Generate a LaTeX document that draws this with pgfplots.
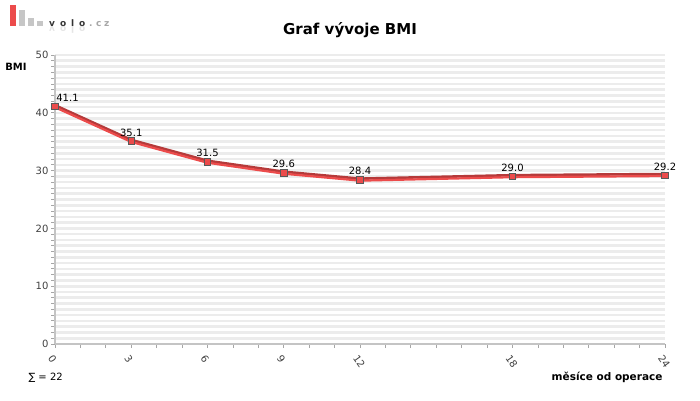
\documentclass[border=0pt]{standalone}
\usepackage{pgfplots}
\pgfplotsset{compat=1.18}
\usepackage{fontspec}
\setmainfont{DejaVu Sans}
\definecolor{lred}{HTML}{EC4B4B}
\definecolor{dred}{HTML}{B53A3A}
\definecolor{axgray}{HTML}{C4C4C4}
\definecolor{stripe}{HTML}{ECECEC}
\begin{document}
\begin{tikzpicture}[x=1pt,y=1pt]
\useasboundingbox (-55,-56) rectangle (645,344);
% logo
\fill[lred] (-45,318) rectangle (-39,339);
\fill[gray!45] (-36,318) rectangle (-30,334);
\fill[gray!45] (-27,318) rectangle (-21,326);
\fill[gray!45] (-18,318) rectangle (-12,323);
\begin{scope}[every node/.style={anchor=base west,inner sep=0pt,font=\fontsize{9}{9}\selectfont\bfseries}]
\node[text=black!80] at (-6,318) {v};
\node[text=black!80] at (5,318) {o};
\node[text=black!80] at (16,318) {l};
\node[text=black!80] at (24,318) {o};
\node[text=gray!70] at (34,318) {.};
\node[text=gray!70] at (41,318) {c};
\node[text=gray!70] at (49,318) {z};
\node[text=gray!20,yscale=-1] at (-6,318) {v};
\node[text=gray!20,yscale=-1] at (5,318) {o};
\node[text=gray!20,yscale=-1] at (16,318) {l};
\node[text=gray!20,yscale=-1] at (24,318) {o};
\end{scope}
% title
\node[font=\fontsize{15}{15}\selectfont\bfseries] at (295,314) {Graf vývoje BMI};
\begin{axis}[
  at={(0,0)}, anchor=origin,
  scale only axis, width=610pt, height=289pt,
  xmin=0, xmax=24, ymin=0, ymax=50,
  axis lines*=left,
  axis line style={axgray, line width=2.5pt},
  xtick={0,3,6,9,12,18,24},
  minor xtick={1,2,4,5,7,8,10,11,13,14,15,16,17,19,20,21,22,23},
  ytick={0,10,20,30,40,50},
  minor ytick={1,2,...,49},
  ymajorgrids, yminorgrids,
  major grid style={stripe, line width=2.6pt},
  minor grid style={stripe, line width=2.6pt},
  tick style={gray!70, line width=0.8pt},
  major tick length=4pt, minor tick length=4pt,
  tick align=outside,
  /pgf/number format/assume math mode=true,
  ticklabel style={font=\fontsize{10}{10}\selectfont, text=black!75},
  xticklabel style={rotate=-55, anchor=north west, xshift=0.5pt, yshift=-1pt},
  yticklabel style={xshift=1pt},
  clip=false,
]
% shadow (darker) line
\addplot[dred, line width=2.6pt, yshift=1.2pt, forget plot] coordinates {
(0,41.1) (3,35.1) (6,31.5) (9,29.6) (12,28.4) (18,29.0) (24,29.2)};
\addplot[lred, line width=2.2pt, yshift=-0.8pt,
  mark=square*, mark size=3.3pt,
  mark options={fill=lred, draw=black!65, line width=0.8pt, yshift=0.8pt},
  nodes near coords, point meta=explicit symbolic,
  every node near coord/.append style={font=\fontsize{10}{10}\selectfont, text=black, yshift=2.5pt, anchor=south, inner sep=2pt}]
 coordinates {
(0,41.1)[{\hspace*{25pt}41.1}] (3,35.1)[35.1] (6,31.5)[31.5] (9,29.6)[29.6] (12,28.4)[28.4] (18,29.0)[29.0] (24,29.2)[29.2]};
\end{axis}
\node[anchor=base, font=\fontsize{10}{10}\selectfont\bfseries] at (-39,274) {BMI};
\node[anchor=base east, font=\fontsize{10.5}{10.5}\selectfont\bfseries] at (611,-36) {měsíce od operace};
\node[anchor=base west, font=\fontsize{10}{10}\selectfont] at (-30,-36) {∑ = 22};
\end{tikzpicture}
\end{document}
